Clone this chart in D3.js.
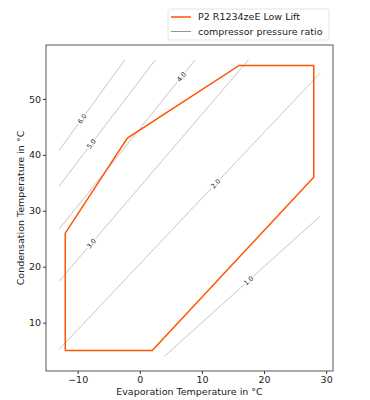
<!DOCTYPE html>
<html>
<head>
<meta charset="utf-8">
<script src="https://cdn.jsdelivr.net/npm/d3@7"></script>
<style>
  body { margin: 0; background: #fff; }
  svg text { font-family: "DejaVu Sans", sans-serif; }
</style>
</head>
<body>
<svg id="chart" width="370" height="400"></svg>
<script>
// operating envelope (evaporation temp, condensation temp)
const envelopeTe = [-12, 2, 28, 28, 16, -2, -12, -12];
const envelopeTc = [5, 5, 36, 56, 56, 43, 26, 5];

// compressor pressure ratio lines: start / end points
const ratioLabels = ["1.0", "2.0", "3.0", "4.0", "5.0", "6.0"];
const ratioTe = [[4, 29], [-13, 29], [-13, 17.5], [-13, 8.9], [-13, 2.5], [-13, -2.4]];
const ratioTc = [[4, 29], [5.2, 54.6], [17.4, 57], [26.7, 57], [34.4, 57], [40.8, 57]];
// where along each line the label sits (0..1)
const labelPos = [0.54, 0.60, 0.17, 0.90, 0.335, 0.35];

const xTicks = [-10, 0, 10, 20, 30];
const yTicks = [10, 20, 30, 40, 50];

const legendNames = ["P2 R1234zeE Low Lift", "compressor pressure ratio"];

const orange = "#ff5500";
const fontSize = 9.5;
const margin = {left: 46, top: 45, right: 37, bottom: 29};
const width = 370, height = 400;
const innerWidth = width - margin.left - margin.right;
const innerHeight = height - margin.top - margin.bottom;

const svg = d3.select("#chart");
const g = svg.append("g").attr("transform", `translate(${margin.left},${margin.top})`);

// matplotlib style autoscale: data extent plus 5% each side
const allX = envelopeTe.concat(ratioTe.flat());
const allY = envelopeTc.concat(ratioTc.flat());
function padded(vals) {
    const [lo, hi] = d3.extent(vals);
    const m = (hi - lo) * 0.05;
    return [lo - m, hi + m];
}
const x = d3.scaleLinear().domain(padded(allX)).range([0, innerWidth]);
const y = d3.scaleLinear().domain(padded(allY)).range([innerHeight, 0]);

// pressure ratio lines
ratioLabels.forEach((lab, i) => {
    const p0 = [x(ratioTe[i][0]), y(ratioTc[i][0])];
    const p1 = [x(ratioTe[i][1]), y(ratioTc[i][1])];
    g.append("line")
        .attr("x1", p0[0]).attr("y1", p0[1])
        .attr("x2", p1[0]).attr("y2", p1[1])
        .attr("stroke", "#b8b8b8")
        .attr("stroke-width", 0.8);

    const t = labelPos[i];
    const lx = p0[0] + (p1[0] - p0[0]) * t;
    const ly = p0[1] + (p1[1] - p0[1]) * t;
    const ang = Math.atan2(p1[1] - p0[1], p1[0] - p0[0]) * 180 / Math.PI;
    g.append("text")
        .attr("transform", `translate(${lx},${ly}) rotate(${ang})`)
        .attr("text-anchor", "middle")
        .attr("dy", "0.35em")
        .attr("font-size", 6.5)
        .attr("fill", "#222")
        .attr("stroke", "#fff")
        .attr("stroke-width", 3)
        .attr("paint-order", "stroke")
        .text(lab);
});

// envelope
const line = d3.line().x(d => x(d[0])).y(d => y(d[1]));
g.append("path")
    .datum(envelopeTe.map((v, i) => [v, envelopeTc[i]]))
    .attr("d", line)
    .attr("fill", "none")
    .attr("stroke", orange)
    .attr("stroke-width", 1.5);

// axes
const xAxis = g.append("g")
    .attr("transform", `translate(0,${innerHeight})`)
    .call(d3.axisBottom(x).tickValues(xTicks).tickSize(3).tickPadding(2)
        .tickFormat(d => d < 0 ? "\u2212" + Math.abs(d) : d));
const yAxis = g.append("g")
    .call(d3.axisLeft(y).tickValues(yTicks).tickSize(3).tickPadding(2));
[xAxis, yAxis].forEach(a => {
    a.select(".domain").remove();
    a.selectAll("text").attr("font-size", fontSize).attr("fill", "#222").style("font-family", "DejaVu Sans");
    a.selectAll("line").attr("stroke", "#333");
});

g.append("rect")
    .attr("width", innerWidth).attr("height", innerHeight)
    .attr("fill", "none").attr("stroke", "#444").attr("stroke-width", 0.9);

g.append("text")
    .attr("x", innerWidth / 2).attr("y", innerHeight + 24)
    .attr("text-anchor", "middle").attr("font-size", fontSize).attr("fill", "#222")
    .text("Evaporation Temperature in \u00B0C");
g.append("text")
    .attr("transform", `translate(${-22},${innerHeight / 2}) rotate(-90)`)
    .attr("text-anchor", "middle").attr("font-size", fontSize).attr("fill", "#222")
    .text("Condensation Temperature in \u00B0C");

// legend
const legend = svg.append("g").attr("transform", "translate(168,9)");
legend.append("rect")
    .attr("width", 161).attr("height", 31).attr("rx", 2)
    .attr("fill", "#fff").attr("stroke", "#ddd").attr("stroke-width", 0.8);
const legendColors = [orange, "#888"];
const legendWidths = [1.5, 0.9];
legendNames.forEach((name, i) => {
    const ly = 8 + i * 14.5;
    legend.append("line")
        .attr("x1", 3).attr("x2", 23).attr("y1", ly).attr("y2", ly)
        .attr("stroke", legendColors[i]).attr("stroke-width", legendWidths[i]);
    legend.append("text")
        .attr("x", 30).attr("y", ly).attr("dy", "0.35em")
        .attr("font-size", fontSize).attr("fill", "#222")
        .text(name);
});
</script>
</body>
</html>
